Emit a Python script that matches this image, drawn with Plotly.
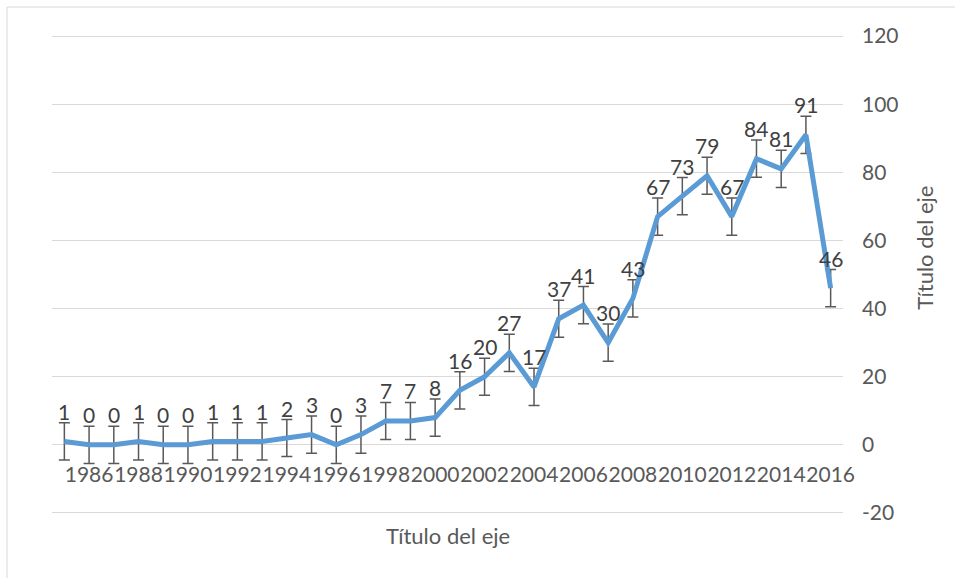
import numpy as np
import plotly.graph_objects as go

years = list(range(1985, 2017))
values = [1, 0, 0, 1, 0, 0, 1, 1, 1, 2, 3, 0, 3, 7, 7, 8,
          16, 20, 27, 17, 37, 41, 30, 43, 67, 73, 79, 67, 84, 81, 91, 46]
x_ticks = list(range(1986, 2017, 2))
y_ticks = [-20, 0, 20, 40, 60, 80, 100, 120]
y_tick_text = ["-20", "0", "20", "40", "60", "80", "100", "120"]
x_title = "Título del eje"
y_title = "Título del eje"

# Excel "standard error" error bars: same amount for every point
se = float(np.std(values, ddof=1) / np.sqrt(len(values)))

FONT = "Lato, Calibri, Carlito, sans-serif"
TICK_COLOR = "#595959"
LABEL_COLOR = "#404040"

Y_LO, Y_HI = -20.6, 120.6

fig = go.Figure()
fig.add_trace(go.Scatter(
    x=years, y=values, mode="lines",
    line=dict(color="#5B9BD5", width=5),
    error_y=dict(type="constant", value=se, color="#595959", thickness=1.5, width=5.5),
    hoverinfo="x+y", showlegend=False,
))

for yr, v in zip(years, values):
    fig.add_annotation(x=yr, y=v, text=str(v), showarrow=False, yshift=30,
                       font=dict(family=FONT, size=21, color=LABEL_COLOR))

# frame of the chart area (light grey)
fig.add_shape(type="line", xref="paper", yref="paper", x0=-0.0569, x1=1.2, y0=1.0561, y1=1.0561,
              line=dict(color="#D9D9D9", width=1))
fig.add_shape(type="line", xref="paper", yref="paper", x0=-0.0569, x1=-0.0569, y0=-0.2, y1=1.0561,
              line=dict(color="#D9D9D9", width=1))

fig.add_annotation(xref="paper", yref="paper", x=0.5, y=-0.0416, text=x_title, showarrow=False,
                   font=dict(family=FONT, size=22, color=TICK_COLOR), yanchor="middle")
fig.add_annotation(xref="paper", yref="paper", x=1.102, y=0.555, text=y_title, showarrow=False,
                   textangle=-90, font=dict(family=FONT, size=22, color=TICK_COLOR),
                   xanchor="center", yanchor="middle")

fig.update_layout(
    width=955, height=578,
    margin=dict(l=52, r=112, t=34, b=63),
    paper_bgcolor="white", plot_bgcolor="white",
    font=dict(family=FONT, size=21, color=TICK_COLOR),
    xaxis=dict(range=[1984.5, 2016.5], tickvals=x_ticks, ticktext=[str(t) for t in x_ticks],
               tickangle=0, automargin=False,
               showgrid=False, zeroline=False, showline=False, ticks="",
               anchor="free", position=(0 - Y_LO) / (Y_HI - Y_LO), ticklabelstandoff=15,
               tickfont=dict(family=FONT, size=21, color=TICK_COLOR)),
    yaxis=dict(range=[Y_LO, Y_HI], tickvals=y_ticks, ticktext=y_tick_text, side="right",
               showgrid=True, automargin=False,
               gridcolor="#D9D9D9", gridwidth=1, zeroline=False, showline=False, ticks="",
               ticklabelstandoff=18,
               tickfont=dict(family=FONT, size=21, color=TICK_COLOR)),
)

fig.write_html("out.html", config={"displayModeBar": False},
               post_script="document.body.style.margin='0';document.body.style.overflow='hidden';")
